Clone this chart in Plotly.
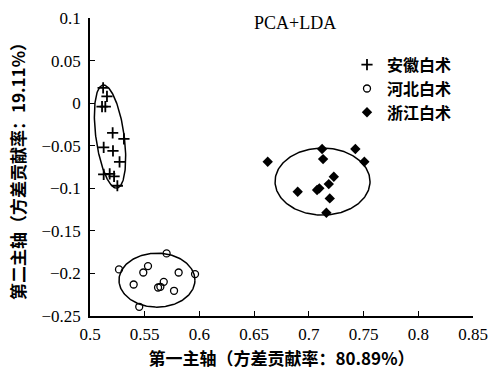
import numpy as np
import plotly.graph_objects as go

# PCA+LDA scores on the first two principal axes
anhui_x = [0.512, 0.5155, 0.511, 0.514, 0.5207, 0.531, 0.5125, 0.521, 0.527, 0.5125, 0.518, 0.522, 0.525]
anhui_y = [0.018, 0.008, -0.004, -0.004, -0.035, -0.042, -0.052, -0.056, -0.069, -0.0837, -0.083, -0.086, -0.097]

hebei_x = [0.5265, 0.570, 0.553, 0.5487, 0.581, 0.596, 0.5399, 0.5674, 0.5622, 0.5643, 0.5768, 0.545]
hebei_y = [-0.1953, -0.1765, -0.1914, -0.1989, -0.1989, -0.2008, -0.213, -0.2099, -0.2165, -0.2157, -0.2204, -0.2392]

zhejiang_x = [0.6624, 0.7121, 0.7425, 0.713, 0.7507, 0.7228, 0.7182, 0.7096, 0.7075, 0.6898, 0.7191, 0.716]
zhejiang_y = [-0.0688, -0.0539, -0.0539, -0.0657, -0.0688, -0.0864, -0.0951, -0.1001, -0.1021, -0.1041, -0.1119, -0.1288]

group_names = ["安徽白术", "河北白术", "浙江白术"]

# Group ellipses: centre, first half-axis vector, second half-axis vector (data units)
ellipse_centres = [(0.5183, -0.0393), (0.5612, -0.2079), (0.7125, -0.0921)]
ellipse_axis1 = [(0.0064, -0.0605), (0.0347, 0.0), (0.0434, 0.0)]
ellipse_axis2 = [(-0.0128, -0.0022), (0.0, 0.0317), (0.0, 0.0394)]

x_ticks = [0.5, 0.55, 0.6, 0.65, 0.7, 0.75, 0.8, 0.85]
y_ticks = [0.1, 0.05, 0, -0.05, -0.1, -0.15, -0.2, -0.25]

CJK = "Noto Sans CJK SC"
SERIF = "Liberation Serif, Times New Roman, serif"

fig = go.Figure()

t = np.linspace(0, 2 * np.pi, 200)
for (cx, cy), (ux, uy), (vx, vy) in zip(ellipse_centres, ellipse_axis1, ellipse_axis2):
    fig.add_trace(go.Scatter(
        x=cx + ux * np.cos(t) + vx * np.sin(t),
        y=cy + uy * np.cos(t) + vy * np.sin(t),
        mode="lines", line=dict(color="black", width=1.5),
        showlegend=False, hoverinfo="skip"))

fig.add_trace(go.Scatter(
    x=anhui_x, y=anhui_y, mode="markers", name=group_names[0],
    marker=dict(symbol="cross-thin", size=8, color="black",
                line=dict(color="black", width=1.8))))
fig.add_trace(go.Scatter(
    x=hebei_x, y=hebei_y, mode="markers", name=group_names[1],
    marker=dict(symbol="circle-open", size=7, color="black",
                line=dict(color="black", width=1.3))))
fig.add_trace(go.Scatter(
    x=zhejiang_x, y=zhejiang_y, mode="markers", name=group_names[2],
    marker=dict(symbol="diamond", size=8, color="black")))

fig.add_annotation(x=0.6874, y=0.094, xref="x", yref="y", text="PCA+LDA",
                   showarrow=False, yanchor="middle",
                   font=dict(family=SERIF, size=18, color="black"))

fig.update_xaxes(
    range=[0.5, 0.85], tickvals=x_ticks, ticktext=[f"{v:g}" for v in x_ticks],
    showline=True, linecolor="black", linewidth=1.5, mirror=False,
    ticks="inside", ticklen=5, tickwidth=1.2, tickcolor="black",
    showgrid=False, zeroline=False, ticklabelstandoff=2, automargin=False,
    tickfont=dict(family=SERIF, size=17, color="black"),
    title=dict(text="第一主轴（方差贡献率：80.89%）", standoff=12,
               font=dict(family=CJK, size=17, color="black", weight="bold")))
fig.update_yaxes(
    range=[-0.25, 0.1], tickvals=y_ticks,
    ticktext=[f"{v:g}".replace("-", "\u2212") for v in y_ticks],
    showline=True, linecolor="black", linewidth=1.5, mirror=False,
    ticks="inside", ticklen=5, tickwidth=1.2, tickcolor="black",
    showgrid=False, zeroline=False, ticklabelstandoff=4, automargin=False,
    tickfont=dict(family=SERIF, size=17, color="black"),
    title=dict(text="第二主轴（方差贡献率：19.11%）", standoff=12,
               font=dict(family=CJK, size=17, color="black", weight="bold")))

fig.update_layout(
    width=498, height=370,
    margin=dict(l=90, r=25, t=18, b=54, autoexpand=False),
    paper_bgcolor="white", plot_bgcolor="white",
    legend=dict(x=0.671, y=0.9, xanchor="left", yanchor="top",
                bgcolor="rgba(0,0,0,0)",
                font=dict(family=CJK, size=16, color="black", weight="bold")),
)

fig.write_html("out.html")
